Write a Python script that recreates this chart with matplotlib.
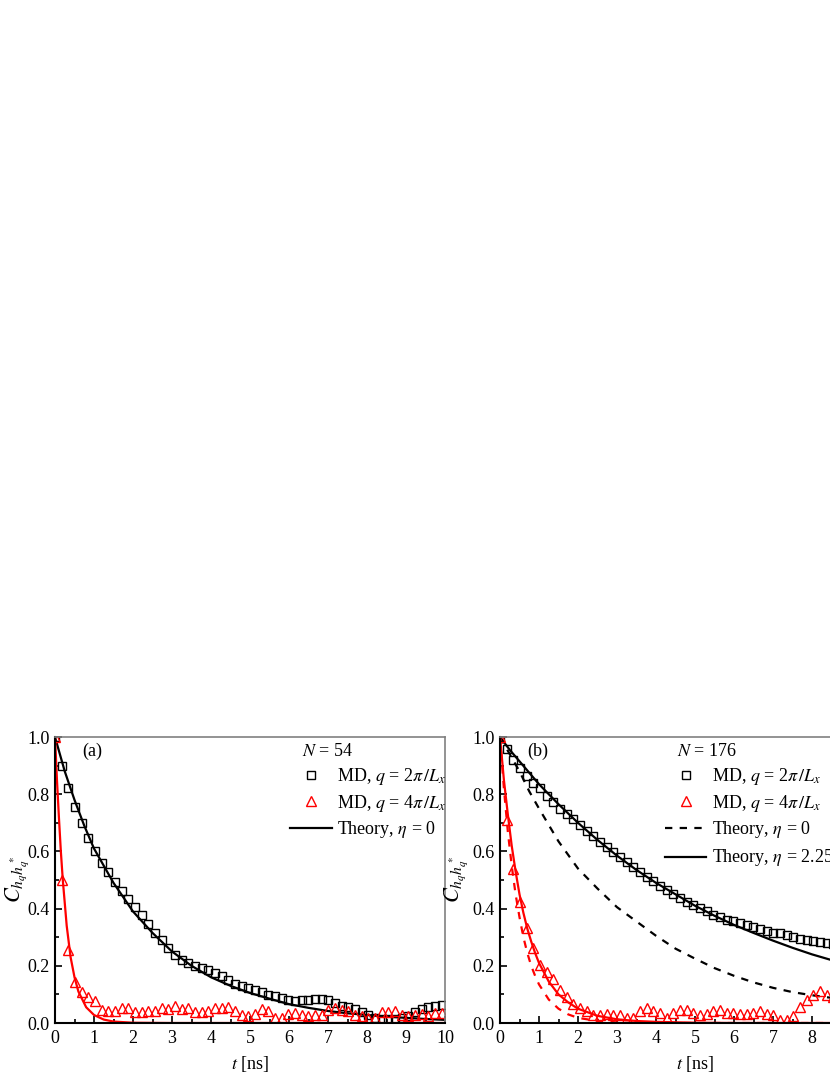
import numpy as np
import matplotlib.pyplot as plt
from matplotlib.lines import Line2D

plt.rcParams['font.family'] = ['Liberation Serif', 'DejaVu Serif']
plt.rcParams['mathtext.fontset'] = 'stix'
plt.rcParams['font.size'] = 13

# MD sampling interval [ns]
dt = 0.171

# panel (a), N = 54
md_a_q1 = [1.0, 0.90, 0.82, 0.756, 0.70, 0.648, 0.60, 0.56, 0.527, 0.494,
           0.463, 0.434, 0.405, 0.378, 0.347, 0.314, 0.29, 0.262, 0.238, 0.221,
           0.209, 0.198, 0.192, 0.186, 0.174, 0.163, 0.151, 0.137, 0.128, 0.122,
           0.114, 0.107, 0.099, 0.093, 0.087, 0.079, 0.076, 0.08, 0.082, 0.084,
           0.085, 0.08, 0.071, 0.059, 0.055, 0.048, 0.04, 0.029, 0.017, 0.014,
           0.014, 0.014, 0.017, 0.026, 0.04, 0.048, 0.055, 0.06, 0.064]
md_a_q2 = [1.0, 0.5, 0.256, 0.145, 0.11, 0.09, 0.076, 0.047, 0.041, 0.041,
           0.052, 0.052, 0.038, 0.038, 0.043, 0.041, 0.052, 0.049, 0.06, 0.049,
           0.052, 0.038, 0.038, 0.041, 0.052, 0.052, 0.056, 0.041, 0.029, 0.026,
           0.033, 0.049, 0.041, 0.017, 0.017, 0.033, 0.035, 0.029, 0.026, 0.029,
           0.029, 0.047, 0.052, 0.047, 0.041, 0.029, 0.023, 0.017, 0.017, 0.038,
           0.038, 0.041, 0.029, 0.023, 0.029, 0.03, 0.025, 0.035, 0.035]
th_a_t = [0, 0.25, 0.5, 0.75, 1, 1.5, 2, 2.5, 3, 3.5, 4, 4.5, 5, 5.5, 6, 6.5,
          7, 7.5, 8, 8.5, 9, 9.5, 10]
th_a_q1 = [1.0, 0.88, 0.78, 0.69, 0.61, 0.49, 0.39, 0.315, 0.25, 0.2, 0.16,
           0.13, 0.105, 0.085, 0.066, 0.053, 0.042, 0.034, 0.028, 0.022, 0.018,
           0.014, 0.011]
th_a_t2 = [0, 0.05, 0.1, 0.15, 0.2, 0.3, 0.4, 0.5, 0.6, 0.8, 1.0, 1.25, 1.5,
           2, 3, 10]
th_a_q2 = [1.0, 0.85, 0.72, 0.6, 0.5, 0.34, 0.23, 0.16, 0.11, 0.055, 0.028,
           0.012, 0.005, 0.001, 0.0, 0.0]

# panel (b), N = 176
md_b_q1 = [1.0, 0.957, 0.919, 0.89, 0.864, 0.84, 0.82, 0.794, 0.773, 0.75,
           0.73, 0.713, 0.694, 0.672, 0.653, 0.634, 0.614, 0.597, 0.579, 0.562,
           0.544, 0.529, 0.512, 0.497, 0.48, 0.465, 0.45, 0.436, 0.424, 0.413,
           0.401, 0.39, 0.378, 0.37, 0.36, 0.355, 0.349, 0.343, 0.335, 0.328,
           0.322, 0.316, 0.314, 0.308, 0.3, 0.294, 0.291, 0.285, 0.283, 0.279,
           0.277]
md_b_q2 = [1.0, 0.71, 0.537, 0.424, 0.331, 0.262, 0.203, 0.177, 0.153, 0.116,
           0.09, 0.067, 0.052, 0.041, 0.029, 0.029, 0.033, 0.029, 0.029, 0.017,
           0.017, 0.041, 0.052, 0.041, 0.035, 0.017, 0.035, 0.047, 0.044, 0.035,
           0.029, 0.033, 0.041, 0.047, 0.035, 0.035, 0.033, 0.033, 0.035, 0.041,
           0.033, 0.029, 0.009, 0.012, 0.023, 0.055, 0.08, 0.097, 0.113, 0.099,
           0.09]
th_b_t = [0, 0.25, 0.5, 0.75, 1, 1.5, 2, 2.5, 3, 3.5, 4, 4.5, 5, 5.5, 6, 6.5,
          7, 7.5, 8, 8.5, 9, 9.5, 10]
th_b_q1_eta0 = [1.0, 0.94, 0.88, 0.81, 0.75, 0.635, 0.54, 0.47, 0.405, 0.355,
                0.305, 0.26, 0.225, 0.192, 0.165, 0.142, 0.123, 0.108, 0.097,
                0.088, 0.08, 0.074, 0.07]
th_b_q1_eta = [1.0, 0.955, 0.915, 0.875, 0.835, 0.765, 0.70, 0.64, 0.585,
               0.535, 0.49, 0.45, 0.41, 0.375, 0.343, 0.315, 0.288, 0.263,
               0.24, 0.22, 0.2, 0.184, 0.168]
th_b_t2 = [0, 0.1, 0.2, 0.3, 0.4, 0.5, 0.6, 0.7, 0.8, 0.9, 1.0, 1.25, 1.5,
           1.75, 2, 2.5, 3, 3.5, 4, 5, 6, 10]
th_b_q2_eta0 = [1.0, 0.82, 0.67, 0.55, 0.45, 0.37, 0.30, 0.245, 0.2, 0.165,
                0.135, 0.082, 0.05, 0.03, 0.018, 0.007, 0.002, 0.0, 0.0, 0.0,
                0.0, 0.0]
th_b_q2_eta = [1.0, 0.85, 0.73, 0.62, 0.53, 0.45, 0.385, 0.33, 0.285, 0.245,
               0.21, 0.145, 0.1, 0.072, 0.05, 0.025, 0.013, 0.007, 0.004,
               0.001, 0.0, 0.0]

lab_q1 = r'MD, $q$ = 2$\pi\,/L_x$'
lab_q2 = r'MD, $q$ = 4$\pi\,/L_x$'
sq = dict(ls='none', marker='s', ms=5.5, mfc='none', mew=1.0, color='black')
tri = dict(ls='none', marker='^', ms=6.5, mfc='none', mew=1.0, color='red')

fig = plt.figure(figsize=(8.3, 10.75), dpi=100)
ax1 = fig.add_axes([55/830, 52/1075, 390/830, 286/1075])
ax2 = fig.add_axes([500/830, 52/1075, 390/830, 286/1075])


def style(ax, ylab_x):
    ax.set_xlim(0, 10)
    ax.set_ylim(0, 1.0)
    ax.set_xticks(range(0, 11))
    ax.set_xticks(np.arange(0.5, 10, 1.0), minor=True)
    ax.set_yticks([0, 0.2, 0.4, 0.6, 0.8, 1.0])
    ax.set_yticks([0.1, 0.3, 0.5, 0.7, 0.9], minor=True)
    ax.yaxis.set_major_formatter(plt.FormatStrFormatter('%.1f'))
    ax.tick_params(which='both', direction='in', top=False, right=False,
                   width=1.2, labelsize=13)
    ax.tick_params(which='major', length=5, pad=5)
    ax.tick_params(which='minor', length=3)
    ax.tick_params(axis='y', pad=4)
    for s in ['left', 'bottom']:
        ax.spines[s].set_linewidth(1.5)
    for s in ['top', 'right']:
        ax.spines[s].set_color('#808080')
        ax.spines[s].set_linewidth(1.2)
    ax.set_xlabel(r'$t$ [ns]', fontsize=13, labelpad=5)
    ax.set_ylabel(r'$C_{h_q h_q^*}$', fontsize=16)
    ax.yaxis.set_label_coords(ylab_x, 0.5)


def legend(ax, handles, labels, x):
    ax.legend(handles, labels, loc='upper left', bbox_to_anchor=(x, 0.898),
              frameon=False, borderpad=0, borderaxespad=0, handlelength=2.3,
              handletextpad=0.3, labelspacing=0.3, fontsize=13)


# (a)
t_a = dt * np.arange(len(md_a_q1))
ax1.plot(th_a_t, th_a_q1, color='black', lw=1.6)
ax1.plot(th_a_t2, th_a_q2, color='red', lw=1.6)
ax1.plot(t_a, md_a_q1, **sq)
ax1.plot(t_a, md_a_q2, **tri)
style(ax1, -0.062)
ax1.text(0.07, 0.95, '(a)', transform=ax1.transAxes, va='center', fontsize=13)
ax1.text(0.633, 0.948, r'$N$ = 54', transform=ax1.transAxes, va='center',
         fontsize=13)
legend(ax1, [Line2D([], [], **sq), Line2D([], [], **tri),
             Line2D([], [], color='black', lw=1.6)],
       [lab_q1, lab_q2, r'Theory, $\eta$ = 0'], 0.603)

# (b)
t_b1 = dt * np.arange(len(md_b_q1))
t_b2 = dt * np.arange(len(md_b_q2))
ax2.plot(th_b_t, th_b_q1_eta0, color='black', lw=1.6, dashes=(3.3, 3.3))
ax2.plot(th_b_t, th_b_q1_eta, color='black', lw=1.6)
ax2.plot(th_b_t2, th_b_q2_eta0, color='red', lw=1.6, dashes=(3.3, 3.3))
ax2.plot(th_b_t2, th_b_q2_eta, color='red', lw=1.6)
ax2.plot(t_b1, md_b_q1, **sq)
ax2.plot(t_b2, md_b_q2, **tri)
style(ax2, -0.078)
ax2.text(0.07, 0.95, '(b)', transform=ax2.transAxes, va='center', fontsize=13)
ax2.text(0.454, 0.948, r'$N$ = 176', transform=ax2.transAxes, va='center',
         fontsize=13)
legend(ax2, [Line2D([], [], **sq), Line2D([], [], **tri),
             Line2D([], [], color='black', lw=1.6, dashes=(3.3, 3.3)),
             Line2D([], [], color='black', lw=1.6)],
       [lab_q1, lab_q2, r'Theory, $\eta$ = 0',
        r'Theory, $\eta$ = 2.25$\times$10$^{-4}$ Pa s'], 0.423)

fig.savefig('out.png', dpi=100)
